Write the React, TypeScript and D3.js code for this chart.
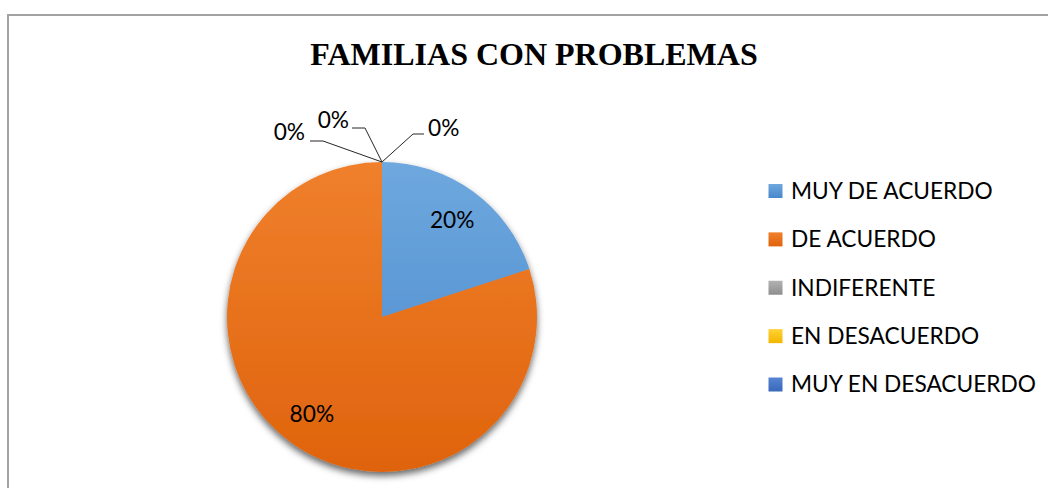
import React from "react";
import * as d3 from "d3";

const categories = ["MUY DE ACUERDO", "DE ACUERDO", "INDIFERENTE", "EN DESACUERDO", "MUY EN DESACUERDO"];
const values = [20, 80, 0, 0, 0];
const colorsTop = ["#6EA8DE", "#F0802C", "#B2B2B2", "#FFD236", "#5585D2"];
const colorsBottom = ["#4787CB", "#DF630C", "#8E8E8E", "#F2B600", "#3A68BA"];
const title = "FAMILIAS CON PROBLEMAS";

// layout for zero-value label placement (leader line elbow, stub end, text)
const zeroLabelLayout: Record<number, { elbow: [number, number]; end: [number, number]; text: [number, number]; anchor: string }> = {
  2: { elbow: [-59, -21], end: [-72, -21], text: [-77, -22], anchor: "end" },
  3: { elbow: [-17, -34], end: [-30, -34], text: [-33, -34], anchor: "end" },
  4: { elbow: [31, -28], end: [42, -28], text: [46, -26], anchor: "start" },
};

const W = 1048;
const H = 488;
const cx = 382;
const cy = 317;
const R = 155;
const FONT = "Lato, 'Open Sans', sans-serif";
const FS = 22.7;

export default function App() {
  const total = d3.sum(values);
  const pie = d3.pie<number>().sort(null).value((d) => d)(values);
  const arc = d3.arc<d3.PieArcDatum<number>>().innerRadius(0).outerRadius(R);
  const labelArc = d3.arc<d3.PieArcDatum<number>>().innerRadius(R * 0.77).outerRadius(R * 0.77);
  const fmt = (v: number) => `${Math.round((v / total) * 100)}%`;

  const legendY = d3.scalePoint<string>().domain(categories).range([191, 384.5]);

  return (
    <svg width={W} height={H} style={{ position: "absolute", left: 0, top: 0, background: "#fff" }}>
      <defs>
        {categories.map((c, i) => (
          <linearGradient key={c} id={`g${i}`} gradientUnits="userSpaceOnUse" x1={0} y1={-R} x2={0} y2={R}>
            <stop offset="0%" stopColor={colorsTop[i]} />
            <stop offset="100%" stopColor={colorsBottom[i]} />
          </linearGradient>
        ))}
        {categories.map((c, i) => (
          <linearGradient key={c + "l"} id={`lg${i}`} x1={0} y1={0} x2={0} y2={1}>
            <stop offset="0%" stopColor={colorsTop[i]} />
            <stop offset="100%" stopColor={colorsBottom[i]} />
          </linearGradient>
        ))}
        <filter id="shadow" x="-20%" y="-20%" width="140%" height="140%">
          <feDropShadow dx={0} dy={4} stdDeviation={3.5} floodColor="#000" floodOpacity={0.6} />
        </filter>
      </defs>
      <rect x={8} y={15} width={1100} height={600} fill="#fff" stroke="#A3A3A3" strokeWidth={2} />
      <text x={534} y={65} textAnchor="middle" fontFamily="'Liberation Serif', 'Times New Roman', serif" fontWeight="bold" fontSize={32} fill="#000">
        {title}
      </text>
      <g transform={`translate(${cx},${cy})`}>
        <g filter="url(#shadow)">
          {pie.map((p, i) =>
            p.value > 0 ? <path key={i} d={arc(p) || ""} fill={`url(#g${i})`} /> : null
          )}
        </g>
        {pie.map((p, i) => {
          if (p.value > 0) {
            const [x, y] = labelArc.centroid(p);
            return (
              <text key={"t" + i} x={x} y={y} dy="0.35em" textAnchor="middle" fontFamily={FONT} fontSize={FS} fill="#000">
                {fmt(p.value)}
              </text>
            );
          }
          const a = p.startAngle;
          const ax = R * Math.sin(a);
          const ay = -R * Math.cos(a);
          const L = zeroLabelLayout[i];
          return (
            <g key={"z" + i}>
              <polyline
                points={`${ax},${ay} ${ax + L.elbow[0]},${ay + L.elbow[1]} ${ax + L.end[0]},${ay + L.end[1]}`}
                fill="none"
                stroke="#262626"
                strokeWidth={1}
              />
              <text x={ax + L.text[0]} y={ay + L.text[1]} textAnchor={L.anchor} fontFamily={FONT} fontSize={FS} fill="#000">
                {fmt(p.value)}
              </text>
            </g>
          );
        })}
      </g>
      <g>
        {categories.map((c, i) => (
          <g key={c} transform={`translate(0,${legendY(c)})`}>
            <rect x={768.5} y={-7} width={14} height={14} fill={`url(#lg${i})`} />
            <text x={791} y={0} dy="0.35em" fontFamily={FONT} fontSize={FS} fill="#000">
              {c}
            </text>
          </g>
        ))}
      </g>
    </svg>
  );
}
